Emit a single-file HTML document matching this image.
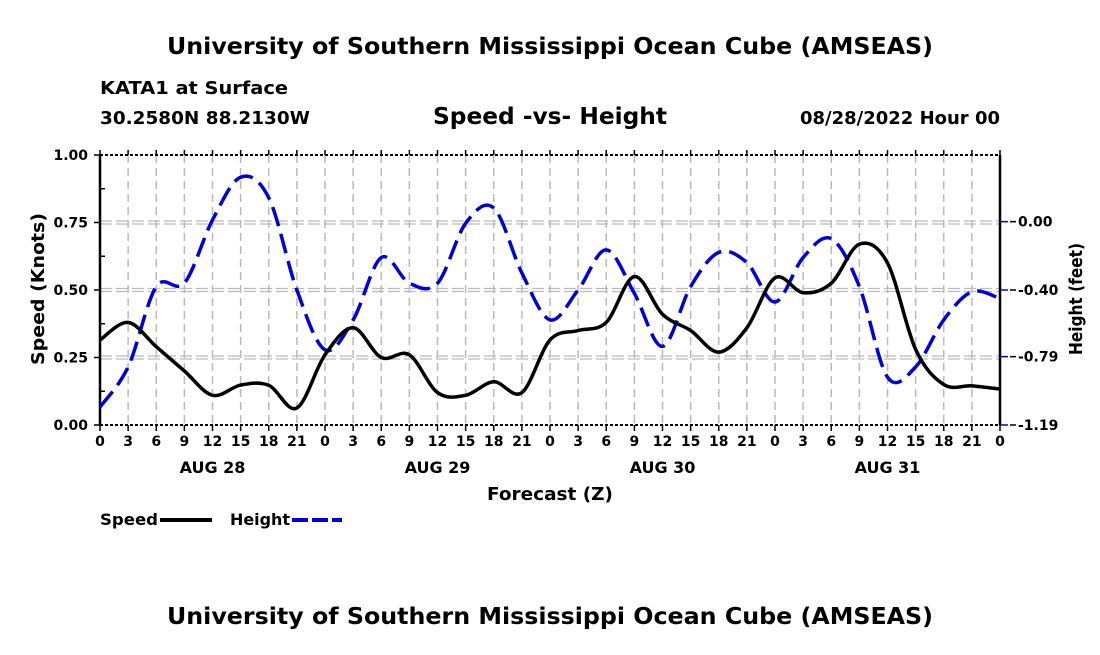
<!DOCTYPE html>
<html><head><meta charset="utf-8"><style>
body{margin:0;background:#fff}
svg text{font-family:"DejaVu Sans","Liberation Sans",Arial,sans-serif;font-weight:bold;fill:#000}
</style></head><body>
<svg id="chart" width="1100" height="650" viewBox="0 0 1100 650" xmlns="http://www.w3.org/2000/svg">
<rect width="1100" height="650" fill="#fff"/>
<text x="167" y="54" font-size="23" textLength="766" lengthAdjust="spacingAndGlyphs">University of Southern Mississippi Ocean Cube (AMSEAS)</text>
<text x="100" y="94" font-size="18" textLength="188" lengthAdjust="spacingAndGlyphs">KATA1 at Surface</text>
<text x="100" y="124" font-size="18" textLength="210" lengthAdjust="spacingAndGlyphs">30.2580N  88.2130W</text>
<text x="433" y="124" font-size="23" textLength="234" lengthAdjust="spacingAndGlyphs">Speed -vs- Height</text>
<text x="800" y="124" font-size="18" textLength="200" lengthAdjust="spacingAndGlyphs">08/28/2022 Hour 00</text>
<g id="grid"></g>
<g id="axes"></g>
<g id="series"></g>
<text x="487" y="500" font-size="18" textLength="126" lengthAdjust="spacingAndGlyphs">Forecast (Z)</text>
<text transform="translate(44,365) rotate(-90)" font-size="18" textLength="152" lengthAdjust="spacingAndGlyphs">Speed (Knots)</text>
<text transform="translate(1082,355) rotate(-90)" font-size="18" textLength="112" lengthAdjust="spacingAndGlyphs">Height (feet)</text>
<g>
<text x="100" y="525" font-size="16" textLength="58" lengthAdjust="spacingAndGlyphs">Speed</text>
<line x1="160" y1="520" x2="212" y2="520" stroke="#000" stroke-width="4"/>
<text x="230" y="525" font-size="16" textLength="60" lengthAdjust="spacingAndGlyphs">Height</text>
<line x1="292" y1="520" x2="342" y2="520" stroke="#0000dd" stroke-width="4" stroke-dasharray="16,4"/>
</g>
<text x="167" y="624" font-size="23" textLength="766" lengthAdjust="spacingAndGlyphs">University of Southern Mississippi Ocean Cube (AMSEAS)</text>
</svg>
<script>
const hours=[0,3,6,9,12,15,18,21,24,27,30,33,36,39,42,45,48,51,54,57,60,63,66,69,72,75,78,81,84,87,90,93,96];
const speedValues=[0.315,0.38,0.29,0.20,0.11,0.148,0.147,0.063,0.26,0.36,0.25,0.26,0.12,0.11,0.16,0.12,0.315,0.35,0.38,0.55,0.41,0.35,0.27,0.36,0.545,0.49,0.525,0.67,0.60,0.28,0.15,0.145,0.133];
const heightValues=[-1.085,-0.85,-0.38,-0.36,0.01,0.26,0.14,-0.40,-0.75,-0.575,-0.21,-0.36,-0.36,-0.01,0.08,-0.30,-0.575,-0.40,-0.165,-0.42,-0.73,-0.38,-0.18,-0.24,-0.47,-0.21,-0.10,-0.38,-0.91,-0.85,-0.575,-0.41,-0.45];
const speedTicks=["0.00","0.25","0.50","0.75","1.00"];
const heightTicks=["0.00","-0.40","-0.79","-1.19"];
const dayLabels=["AUG 28","AUG 29","AUG 30","AUG 31"];

const X0=100,X1=1000,Y0=425,Y1=155,HMIN=-1.19,HMAX=0.39;
const xs=h=>X0+(X1-X0)*h/96;
const ys=v=>Y0-(Y0-Y1)*v/1;
const yh=h=>Y0-(Y0-Y1)*(h-HMIN)/(HMAX-HMIN);
const NS="http://www.w3.org/2000/svg";
function mk(tag,attrs,parent){const e=document.createElementNS(NS,tag);for(const k in attrs)e.setAttribute(k,attrs[k]);parent.appendChild(e);return e;}
const grid=document.getElementById('grid'),axes=document.getElementById('axes'),series=document.getElementById('series');

for(let h=0;h<=96;h+=3){
  const x=xs(h);
  if(h>0&&h<96){const l=mk('line',{x1:x,y1:Y1,x2:x,y2:Y0,stroke:'#bbb','stroke-width':1.5,'stroke-dasharray':'8,5'},grid);
  
  }
  mk('line',{x1:x,y1:Y0,x2:x,y2:Y0+6,stroke:'#000','stroke-width':1.5},axes);
  mk('line',{x1:x,y1:Y1,x2:x,y2:Y1-5,stroke:'#000','stroke-width':1.5},axes);
  const t=mk('text',{x:x,y:446,'font-size':14,'text-anchor':'middle'},axes);
  
  
  t.textContent=String(h%24);
}
dayLabels.forEach((d,i)=>{const t=mk('text',{x:xs(12+24*i),y:473,'font-size':16,'text-anchor':'middle'},axes);
  
  
  t.textContent=d;});
speedTicks.forEach((s,i)=>{const v=parseFloat(s),y=ys(v);
  if(i>0&&i<speedTicks.length-1){[-1.5,1.5].forEach(o=>{const l=mk('line',{x1:X0,y1:y+o,x2:X1,y2:y+o,stroke:'#bbb','stroke-width':1.3,'stroke-dasharray':'12,4'},grid);
  
  });}
  mk('line',{x1:X0-6,y1:y,x2:X0,y2:y,stroke:'#000','stroke-width':1.5},axes);
  const t=mk('text',{x:X0-12,y:y+5,'font-size':14,'text-anchor':'end'},axes);
  
  
  t.textContent=s;});
for(let v=0.125;v<1;v+=0.25)mk('line',{x1:X0,y1:ys(v),x2:X0+5,y2:ys(v),stroke:'#000','stroke-width':1.5},axes);
heightTicks.forEach(s=>{const y=yh(parseFloat(s));
  mk('line',{x1:X1,y1:y,x2:X1+8,y2:y,stroke:'#0000dd','stroke-width':1.5},axes);
  mk('line',{x1:X1+10,y1:y,x2:X1+16,y2:y,stroke:'#000','stroke-width':1.5},axes);
  const t=mk('text',{x:X1+18,y:y+5,'font-size':14},axes);
  
  
  t.textContent=s;});
mk('line',{x1:X0,y1:Y1,x2:X0,y2:Y0,stroke:'#000','stroke-width':2.5},axes);
mk('line',{x1:X1,y1:Y1,x2:X1,y2:Y0,stroke:'#000','stroke-width':2.5},axes);
mk('line',{x1:X0,y1:Y1,x2:X1,y2:Y1,stroke:'#000','stroke-width':2,'stroke-dasharray':'3,2'},axes);
mk('line',{x1:X0,y1:Y0,x2:X1,y2:Y0,stroke:'#000','stroke-width':2,'stroke-dasharray':'3,2'},axes);

function smooth(pts){let d='M'+pts[0][0]+','+pts[0][1];
  for(let i=0;i<pts.length-1;i++){const p0=pts[i-1]||pts[i],p1=pts[i],p2=pts[i+1],p3=pts[i+2]||p2;
  const c1=[p1[0]+(p2[0]-p0[0])/6,p1[1]+(p2[1]-p0[1])/6],c2=[p2[0]-(p3[0]-p1[0])/6,p2[1]-(p3[1]-p1[1])/6];
  d+=' C'+c1+' '+c2+' '+p2;}return d;}
const hp=mk('path',{d:smooth(hours.map((h,i)=>[xs(h),yh(heightValues[i])])),fill:'none',stroke:'#0000dd','stroke-width':3.5,'stroke-dasharray':'20,8'},series);


const sp=mk('path',{d:smooth(hours.map((h,i)=>[xs(h),ys(speedValues[i])])),fill:'none',stroke:'#000','stroke-width':3.5},series);


</script>
</body></html>
